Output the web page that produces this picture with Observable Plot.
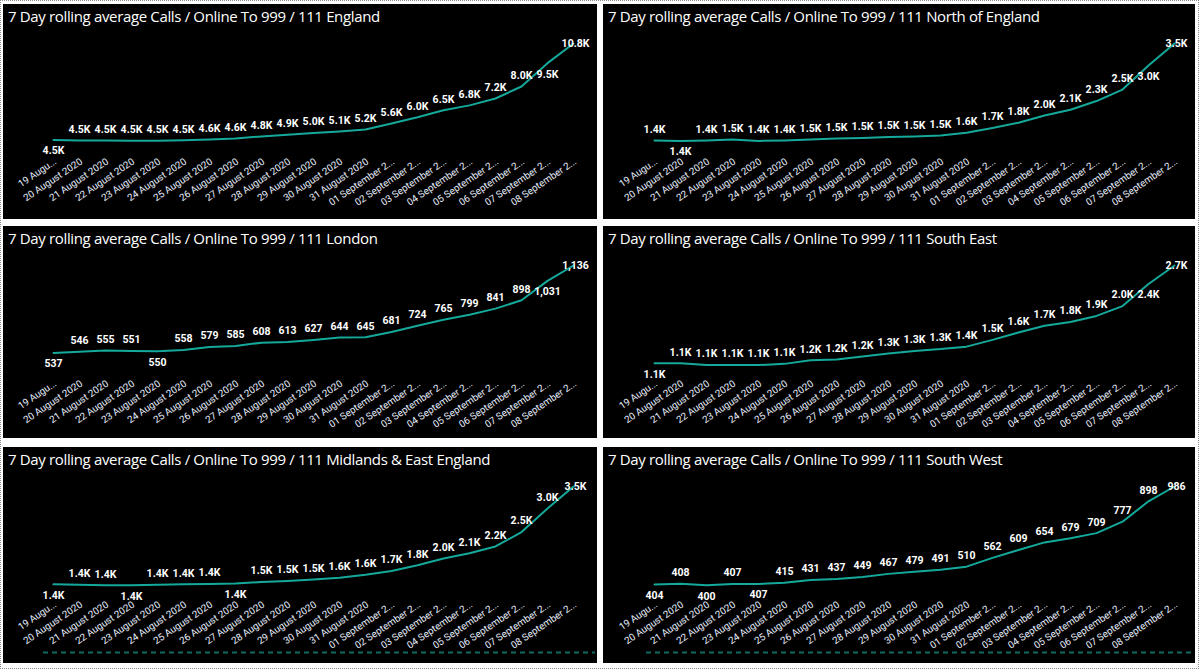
<!DOCTYPE html>
<html><head><meta charset="utf-8">
<script src="https://cdn.jsdelivr.net/npm/d3@7"></script>
<script src="https://cdn.jsdelivr.net/npm/@observablehq/plot@0.6"></script>
<style>
html,body{margin:0;padding:0;background:#fff;width:1200px;height:670px;overflow:hidden}
#frame{position:absolute;left:0px;top:0px;width:1197px;height:667px;border:1px dotted #8a8a8a;}
.panel{position:absolute;background:#000;overflow:hidden}
.title{position:absolute;left:5px;top:2px;color:#fff;font-family:"Open Sans";font-size:15px;white-space:nowrap;letter-spacing:-0.35px}
.panel svg{position:absolute;left:0;top:0}
</style></head><body>
<div id="frame"></div>
<div id="root"></div>
<script>
const dates = ["19 August 2020","20 August 2020","21 August 2020","22 August 2020","23 August 2020","24 August 2020","25 August 2020","26 August 2020","27 August 2020","28 August 2020","29 August 2020","30 August 2020","31 August 2020","01 September 2020","02 September 2020","03 September 2020","04 September 2020","05 September 2020","06 September 2020","07 September 2020","08 September 2020"];
const tickLabels = ["19 Augu...","20 August 2020","21 August 2020","22 August 2020","23 August 2020","24 August 2020","25 August 2020","26 August 2020","27 August 2020","28 August 2020","29 August 2020","30 August 2020","31 August 2020","01 September 2...","02 September 2...","03 September 2...","04 September 2...","05 September 2...","06 September 2...","07 September 2...","08 September 2..."];
const titlePrefix = "7 Day rolling average Calls / Online To 999 / 111 ";
const regions = ["England","North of England","London","South East","Midlands & East England","South West"];
const england = [4520,4500,4490,4480,4470,4510,4560,4620,4760,4870,4980,5080,5210,5600,6010,6460,6780,7230,8010,9530,10810];
const north = [1440,1430,1440,1460,1430,1440,1460,1480,1490,1510,1520,1540,1600,1700,1810,1960,2080,2260,2500,3000,3460];
const london = [537,546,555,551,550,558,579,585,608,613,627,644,645,681,724,765,799,841,898,1031,1136];
const southEast = [1110,1110,1080,1080,1080,1100,1160,1170,1220,1270,1310,1340,1380,1490,1610,1720,1780,1880,2040,2400,2700];
const midlands = [1420,1410,1400,1400,1410,1420,1430,1440,1470,1490,1520,1560,1620,1700,1820,1960,2070,2210,2510,3000,3460];
const southWest = [404,408,400,407,407,415,431,437,449,467,479,491,510,562,609,654,679,709,777,898,986];
const seriesList = [england, north, london, southEast, midlands, southWest];
const labelUnits = ["K","K","none","K","K","none"];
const belowIdx = [[0,19],[1,19],[0,4,19],[0,19],[0,3,7],[0,2,4]];

const fmtK = v => (v/1000).toFixed(1) + "K";
const fmtN = d3.format(",");

const colLeft = [3, 603], colWidth = [594, 592];
const rowTop = [4, 226, 447], rowHeight = [215, 212, 216];
const root = document.getElementById("root");

seriesList.forEach((values, p) => {
  const col = p % 2, row = Math.floor(p / 2);
  const w = colWidth[col];
  const div = document.createElement("div");
  div.className = "panel";
  Object.assign(div.style, {left: colLeft[col] + "px", top: rowTop[row] + "px", width: w + "px", height: rowHeight[row] + "px"});
  const t = document.createElement("div");
  t.className = "title";
  t.textContent = titlePrefix + regions[p];
  div.appendChild(t);
  const fmt = labelUnits[p] === "K" ? fmtK : fmtN;
  const maxV = d3.max(values);
  const grp = i => values[i] === maxV ? "top" : belowIdx[p].includes(i) ? "below" : "above";
  const xs = (d, i) => dates[i];
  const labelOpts = {x: xs, y: d => d, text: d => fmt(d), fill: "#ffffff", fontFamily: "Roboto", fontWeight: 700, fontSize: 10.5};
  const svg = Plot.plot({
    width: w, height: 212,
    marginLeft: col === 0 ? 47 : 50, marginRight: col === 0 ? 22 : 20,
    marginTop: 39, marginBottom: 7,
    style: {background: "transparent", color: "#e8efff", overflow: "visible"},
    x: {type: "point", domain: dates, padding: 0, axis: null},
    y: {domain: [0, maxV], range: [205, 39], axis: null},
    marks: [
      row === 2 ? Plot.ruleY([0], {stroke: "#0e6c64", strokeWidth: 2, strokeDasharray: "5,4", insetLeft: -7, insetRight: -20}) : null,
      Plot.axisX({anchor: "bottom", tickSize: 0, tickPadding: 0, tickRotate: -34, dy: -49, dx: 2, tickFormat: d => tickLabels[dates.indexOf(d)], fontSize: 9.8, fontFamily: "Roboto", fill: "#e8efff"}),
      Plot.line(values, {x: xs, y: d => d, stroke: "#14a99b", strokeWidth: 2}),
      Plot.text(values, {...labelOpts, filter: (d, i) => grp(i) === "above", dy: -11}),
      Plot.text(values, {...labelOpts, filter: (d, i) => grp(i) === "below", dy: 11}),
      Plot.text(values, {...labelOpts, filter: (d, i) => grp(i) === "top", dy: 0, dx: 2})
    ]
  });
  div.appendChild(svg);
  root.appendChild(div);
});
</script>
</body></html>
